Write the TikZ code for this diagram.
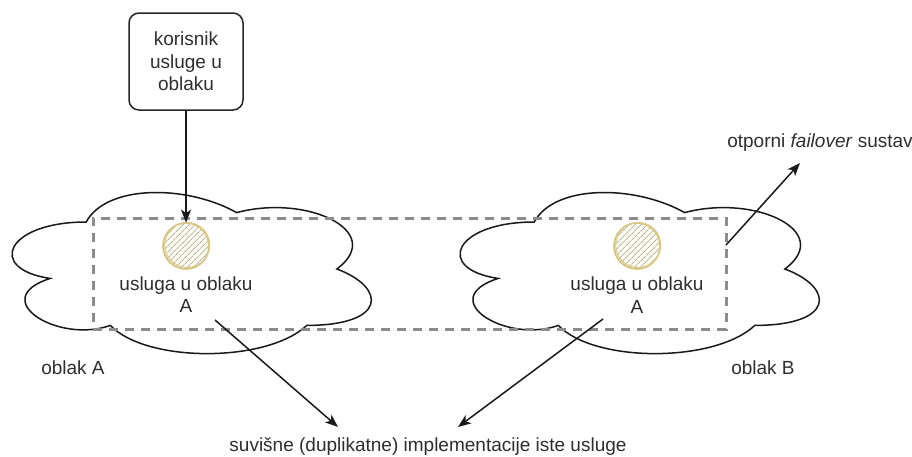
\documentclass[tikz,border=0pt]{standalone}
\usepackage{fontspec}
\setmainfont{Liberation Sans}
\usetikzlibrary{arrows.meta, positioning, patterns.meta}
\definecolor{sketchyellow}{HTML}{D6C27A}
\colorlet{hatchgray}{gray!60}
\colorlet{dashgray}{black!45}
\colorlet{txtgray}{black!82}
\tikzset{
  >={Stealth[length=13pt,width=10pt,inset=3.5pt]},
  txt/.style={font=\fontsize{19}{22.5}\selectfont, text=txtgray, align=center, inner sep=0},
  userbox/.style={txt, draw=black!85, line width=1.5pt, rounded corners=10pt, minimum width=114pt, minimum height=97pt},
  service/.style={circle, draw=sketchyellow, line width=1.6pt, minimum size=46pt, inner sep=0,
    preaction={fill=yellow!6}, pattern={Lines[angle=45,distance=4pt,line width=0.9pt]}, pattern color=hatchgray},
  ring/.style={sketchyellow!85, line width=1.1pt},
  connect/.style={->, line width=1.5pt, black!90},
  cloud line/.style={line width=1.5pt, black!90, fill=white},
  redundant/.style={draw=dashgray, line width=3pt, dash pattern=on 9pt off 7pt, inner sep=0}
}

\begin{document}
\begin{tikzpicture}[x=1pt,y=-1pt]
  \useasboundingbox (0,0) rectangle (912,456);

  % --- clouds A and B ---
  \foreach \cx in {-14, 434} {
    \begin{scope}[shift={(\cx,175)}, xscale=401, yscale=188]
      \draw[cloud line] (0.25,0.25) .. controls (0.05,0.25) and (0,0.5) .. (0.16,0.55)
        .. controls (0,0.66) and (0.18,0.9) .. (0.31,0.8)
        .. controls (0.4,1) and (0.7,1) .. (0.8,0.8)
        .. controls (1,0.8) and (1,0.6) .. (0.875,0.5)
        .. controls (1,0.3) and (0.8,0.1) .. (0.625,0.2)
        .. controls (0.5,0.05) and (0.3,0.05) .. (0.25,0.25) -- cycle;
    \end{scope}
  }
  \node[txt] (oblakA) at (73,368) {oblak A};
  \node[txt] (oblakB) at (763,368) {oblak B};

  % --- failover group ---
  \node[redundant, minimum width=633pt, minimum height=111pt] (redund) at (409.5,273.5) {};

  % --- services ---
  \node[service] (svcA) at (186,246) {};
  \node[service] (svcB) at (637,246) {};
  \draw[ring] ([shift={(1.2,-1)}]svcA.center) circle (22.5);
  \draw[ring] ([shift={(1.2,-1)}]svcB.center) circle (22.5);
  \node[txt, below=7pt of svcA] (lblA) {usluga u oblaku\\A};
  \node[txt, below=7pt of svcB] (lblB) {usluga u oblaku\\A};

  % --- user ---
  \node[userbox] (user) at (186,61.5) {korisnik\\usluge u\\oblaku};
  \draw[connect] (user) -- (svcA);

  % --- annotations ---
  \node[txt] (failover) at (820,143) {otporni \textit{failover} sustav};
  \node[txt] (dup) at (428,447) {suvišne (duplikatne) implementacije iste usluge};

  \coordinate (fromR) at (726,245);
  \coordinate (toF) at (800,163);
  \coordinate (fromA) at (215,320);
  \coordinate (toA) at (338,427);
  \coordinate (fromB) at (603,319);
  \coordinate (toB) at (458,427);
  \draw[connect] (fromR) -- (toF);
  \draw[connect] (fromA) -- (toA);
  \draw[connect] (fromB) -- (toB);
\end{tikzpicture}
\end{document}
